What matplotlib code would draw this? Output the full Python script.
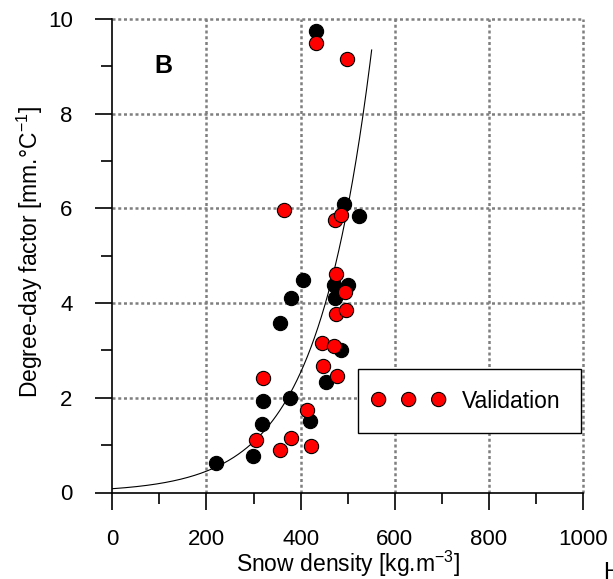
import numpy as np
import matplotlib
matplotlib.use("Agg")
import matplotlib.pyplot as plt
from matplotlib.collections import PathCollection
from matplotlib.legend_handler import HandlerPathCollection

plt.rcParams['font.family'] = ['Liberation Sans', 'DejaVu Sans']

# Calibration samples (black)
calib_density = [433, 492, 525, 405, 472, 500, 473, 379, 357, 485, 454, 321, 377, 420, 319, 298, 221]
calib_ddf = [9.75, 6.09, 5.84, 4.48, 4.38, 4.38, 4.10, 4.10, 3.58, 3.02, 2.33, 1.94, 1.99, 1.50, 1.44, 0.78, 0.62]

# Validation samples (red)
valid_density = [433, 499, 364, 473, 485, 476, 495, 475, 496, 445, 471, 447, 478, 321, 413, 306, 379, 356, 422]
valid_ddf = [9.49, 9.15, 5.96, 5.75, 5.86, 4.61, 4.23, 3.78, 3.85, 3.16, 3.09, 2.67, 2.45, 2.41, 1.74, 1.10, 1.16, 0.89, 0.99]

# Exponential fit: ddf = a * exp(b * density)
fit_a = 0.08
fit_b = 0.00864
fit_max_density = 551

x_ticks = [0, 200, 400, 600, 800, 1000]
y_ticks = [0, 2, 4, 6, 8, 10]

W, H = 613, 579
fig = plt.figure(figsize=(W / 100, H / 100), dpi=100)
ax = fig.add_axes([112.3 / W, 1 - 492.5 / H, (583 - 112.3) / W, (492.5 - 19) / H])

ax.set_xlim(0, 1000)
ax.set_ylim(0, 10)

grid_style = dict(color='#7f7f7f', linewidth=1.8, linestyle=(0, (1.2, 1.1)))
for gx in x_ticks[1:]:
    ax.axvline(gx, zorder=1, clip_on=False, **grid_style)
for gy in y_ticks[1:]:
    ax.axhline(gy, zorder=1, clip_on=False, **grid_style)

xs = np.linspace(0, fit_max_density, 300)
ax.plot(xs, fit_a * np.exp(fit_b * xs), color='black', linewidth=0.8, zorder=2)

ax.scatter(calib_density, calib_ddf, s=105, c='black', edgecolors='black',
           linewidths=0.8, zorder=3, clip_on=False)
ax.scatter(valid_density, valid_ddf, s=105, c='#ff0000', edgecolors='black',
           linewidths=0.8, zorder=4, clip_on=False, label='Validation')

for side in ('top', 'right'):
    ax.spines[side].set_visible(False)
for side in ('left', 'bottom'):
    ax.spines[side].set_linewidth(1.2)

ax.set_xticks(x_ticks)
ax.set_yticks(y_ticks)
ax.set_xticks(np.arange(100, 1000, 200), minor=True)
ax.set_yticks(np.arange(1, 10, 2), minor=True)
ax.tick_params(which='major', length=12, width=1.2, labelsize=16)
ax.tick_params(which='minor', length=7.6, width=1.2)
ax.tick_params(axis='x', which='major', pad=14)
ax.tick_params(axis='y', which='major', pad=16.5)

fig.text(348 / W, 1 - 564 / H, 'Snow density [kg.m$^{\\mathregular{-3}}$]',
         ha='center', va='center', fontsize=16.5)
fig.text(30 / W, 1 - 252 / H, 'Degree-day factor [mm.°C$^{\\mathregular{-1}}$]',
         ha='center', va='center', rotation=90, fontsize=16.5)

ax.text(108, 8.85, 'B', ha='center', va='baseline', fontsize=18, fontweight='bold')

fig.text(603 / W, 0.0, 'H', ha='left', va='baseline', fontsize=17)

leg = ax.legend(loc='upper left', bbox_to_anchor=(0.522, 0.261), borderaxespad=0,
                scatterpoints=3, scatteryoffsets=[0.5], fontsize=16.5,
                handlelength=2.62, handletextpad=1.0, borderpad=0.9,
                fancybox=False, framealpha=1, edgecolor='black',
                handler_map={PathCollection: HandlerPathCollection(marker_pad=0.0)})
leg.get_frame().set_linewidth(1.0)

fig.savefig('out.png', dpi=100)
